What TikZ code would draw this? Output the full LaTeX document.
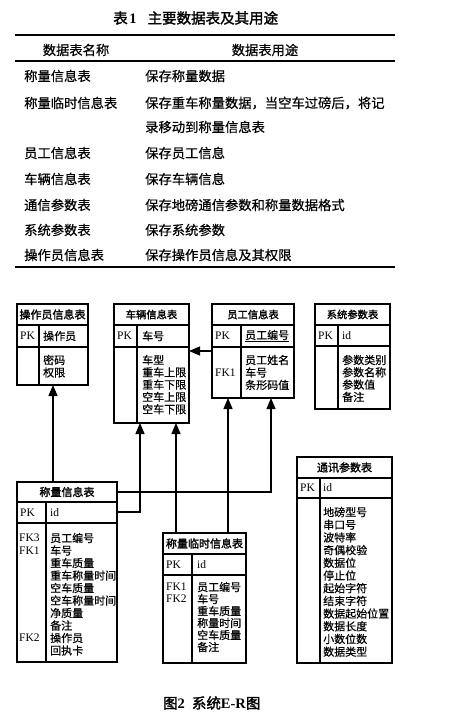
\documentclass[tikz,border=0pt]{standalone}
\usepackage{fontspec}
\setmainfont{Liberation Serif}
\newfontfamily\cjk[FakeBold=0.5]{Noto Sans CJK SC}
\newfontfamily\cjkb[FakeBold=1.8]{Noto Sans CJK SC}
\usetikzlibrary{arrows.meta}
\begin{document}
\begin{tikzpicture}[x=1pt,y=-1pt,
  tbox/.style={draw, line width=1.2pt, inner sep=0pt, outer sep=0pt},
  tline/.style={line width=1.2pt},
  ttl/.style={font=\cjkb\fontsize{11}{13}\selectfont, inner sep=0pt},
  ttls/.style={font=\cjkb\fontsize{10.3}{13}\selectfont, inner sep=0pt},
  fld/.style={font=\cjk\fontsize{11}{13}\selectfont, inner sep=0pt, anchor=west},
  key/.style={font=\fontsize{11.5}{13}\selectfont, inner sep=0pt, anchor=west},
  conn/.style={line width=1.3pt},
  arr/.style={conn, -{Triangle[length=11pt,width=9pt]}},
  t1txt/.style={font=\cjk\fontsize{13.3}{16}\selectfont, inner sep=0pt, anchor=west},
  t1head/.style={font=\cjk\fontsize{13.3}{16}\selectfont, inner sep=0pt},
]
\useasboundingbox (0,0) rectangle (451,722);

% ---------- Table 1 ----------
\node[inner sep=0pt, anchor=west] (t1title) at (113,18)
  {{\cjkb\fontsize{14.5}{16}\selectfont 表}\,{\bfseries\fontsize{14.5}{16}\selectfont 1}\hspace{1.1em}{\cjkb\fontsize{14.5}{16}\selectfont 主要数据表及其用途}};
\draw[line width=1.8pt] (15,35) -- (395,35);
\draw[line width=1.3pt] (15,61) -- (395,61);
\draw[line width=1.8pt] (15,267) -- (395,267);
\node[t1head] (h1) at (76,50) {数据表名称};
\node[t1head] (h2) at (265,50) {数据表用途};

\node[t1txt] (a1) at (24,76) {称量信息表};
\node[t1txt] (b1) at (145,76) {保存称量数据};
\node[t1txt] (a2) at (24,103) {称量临时信息表};
\node[t1txt] (b2) at (145,103) {保存重车称量数据，当空车过磅后，将记};
\node[t1txt] (b2b) at (145,127) {录移动到称量信息表};
\node[t1txt] (a3) at (24,153) {员工信息表};
\node[t1txt] (b3) at (145,153) {保存员工信息};
\node[t1txt] (a4) at (24,179) {车辆信息表};
\node[t1txt] (b4) at (145,179) {保存车辆信息};
\node[t1txt] (a5) at (24,205) {通信参数表};
\node[t1txt] (b5) at (145,205) {保存地磅通信参数和称量数据格式};
\node[t1txt] (a6) at (24,230) {系统参数表};
\node[t1txt] (b6) at (145,230) {保存系统参数};
\node[t1txt] (a7) at (24,255) {操作员信息表};
\node[t1txt] (b7) at (145,255) {保存操作员信息及其权限};

% ---------- 操作员信息表 ----------
\node[tbox, minimum width=71pt, minimum height=81pt] (op) at (52.5,344.5) {};
\draw[tline] (17,325) -- (88,325) (17,347) -- (88,347) (39,325) -- (39,385);
\node[ttl] (op-t) at (52.5,314.5) {操作员信息表};
\node[key] (op-k) at (20,336) {PK};
\node[fld] (op-p) at (43,336) {操作员};
\node[fld] (op-1) at (43,360) {密码};
\node[fld] (op-2) at (43,372.5) {权限};

% ---------- 车辆信息表 ----------
\node[tbox, minimum width=75pt, minimum height=119pt] (veh) at (151.5,363.5) {};
\draw[tline] (114,325) -- (189,325) (114,347) -- (189,347) (137,325) -- (137,423);
\node[ttls] (veh-t) at (151.5,314.5) {车辆信息表};
\node[key] (veh-k) at (117,336) {PK};
\node[fld] (veh-p) at (142,336) {车号};
\foreach \t [count=\i from 0] in {车型,重车上限,重车下限,空车上限,空车下限}
  \node[fld] (veh-\i) at (142,360+12.3*\i) {\t};

% ---------- 员工信息表 ----------
\node[tbox, minimum width=82pt, minimum height=94pt] (emp) at (253,351) {};
\draw[tline] (212,325) -- (294,325) (212,347) -- (294,347) (241,325) -- (241,398);
\node[ttls] (emp-t) at (253,314.5) {员工信息表};
\node[key] (emp-k) at (215,336) {PK};
\node[fld] (emp-p) at (245,336) {\underline{员工编号}};
\node[key] (emp-f) at (215,372.5) {FK1};
\foreach \t [count=\i from 0] in {员工姓名,车号,条形码值}
  \node[fld] (emp-\i) at (245,360+12.5*\i) {\t};

% ---------- 系统参数表 ----------
\node[tbox, minimum width=75pt, minimum height=105pt] (sys) at (352.5,356.5) {};
\draw[tline] (315,325) -- (390,325) (315,346) -- (390,346) (338,325) -- (338,409);
\node[ttls] (sys-t) at (352.5,314.5) {系统参数表};
\node[key] (sys-k) at (318,335.5) {PK};
\node[key] (sys-p) at (342,335.5) {id};
\foreach \t [count=\i from 0] in {参数类别,参数名称,参数值,备注}
  \node[fld] (sys-\i) at (342,360+12.3*\i) {\t};

% ---------- 称量信息表 ----------
\node[tbox, minimum width=100pt, minimum height=180pt] (cl) at (67,572) {};
\draw[tline] (17,502) -- (117,502) (17,523) -- (117,523) (46,502) -- (46,662);
\node[ttl] (cl-t) at (67,492) {称量信息表};
\node[key] (cl-k) at (20,512.5) {PK};
\node[key] (cl-p) at (50,512.5) {id};
\node[key] (cl-f3) at (19,538) {FK3};
\node[key] (cl-f1) at (19,550.5) {FK1};
\node[key] (cl-f2) at (19,638) {FK2};
\foreach \t [count=\i from 0] in {员工编号,车号,重车质量,重车称量时间,空车质量,空车称量时间,净质量,备注,操作员,回执卡}
  \node[fld] (cl-\i) at (50,538+12.5*\i) {\t};

% ---------- 称量临时信息表 ----------
\node[tbox, minimum width=83pt, minimum height=130pt] (tmp) at (204.5,598) {};
\draw[tline] (163,554) -- (246,554) (163,575) -- (246,575) (192,554) -- (192,663);
\node[ttl] (tmp-t) at (204.5,543.5) {称量临时信息表};
\node[key] (tmp-k) at (166,564.5) {PK};
\node[key] (tmp-p) at (197,564.5) {id};
\node[key] (tmp-f1) at (166,587) {FK1};
\node[key] (tmp-f2) at (166,599) {FK2};
\foreach \t [count=\i from 0] in {员工编号,车号,重车质量,称量时间,空车质量,备注}
  \node[fld] (tmp-\i) at (197,587+12*\i) {\t};

% ---------- 通讯参数表 ----------
\node[tbox, minimum width=95pt, minimum height=206pt] (com) at (344.5,560) {};
\draw[tline] (297,478) -- (392,478) (297,498) -- (392,498) (320,478) -- (320,663);
\node[ttl] (com-t) at (344.5,467.5) {通讯参数表};
\node[key] (com-k) at (300,488) {PK};
\node[key] (com-p) at (323,488) {id};
\foreach \t [count=\i from 0] in {地磅型号,串口号,波特率,奇偶校验,数据位,停止位,起始字符,结束字符,数据起始位置,数据长度,小数位数,数据类型}
  \node[fld] (com-\i) at (323,512+12.7*\i) {\t};

% ---------- connectors ----------
\coordinate (c53) at (53,0);
\coordinate (c140) at (140,0);
\coordinate (c176) at (176,0);
\coordinate (c228) at (228,0);
\coordinate (c271) at (271,0);
\coordinate (r492) at (0,492);
\coordinate (r512) at (0,512);
\coordinate (r351) at (0,351);

\draw[arr] (cl.north -| c53) -- (op.south -| c53);
\draw[arr] (cl.east |- r512) -| (veh.south -| c140);
\draw[arr] (cl.east |- r492) -| (emp.south -| c271);
\draw[arr] (tmp.north -| c176) -- (veh.south -| c176);
\draw[arr] (tmp.north -| c228) -- (emp.south -| c228);
\draw[arr] (emp.west |- r351) -- (veh.east |- r351);

% ---------- caption ----------
\node[inner sep=0pt, anchor=west] (cap) at (163,703)
  {{\cjkb\fontsize{14.5}{16}\selectfont 图}{\bfseries\fontsize{14.5}{16}\selectfont 2}\hspace{0.7em}{\cjkb\fontsize{14.5}{16}\selectfont 系统}{\bfseries\fontsize{14.5}{16}\selectfont E-R}{\cjkb\fontsize{14.5}{16}\selectfont 图}};
\end{tikzpicture}
\end{document}
